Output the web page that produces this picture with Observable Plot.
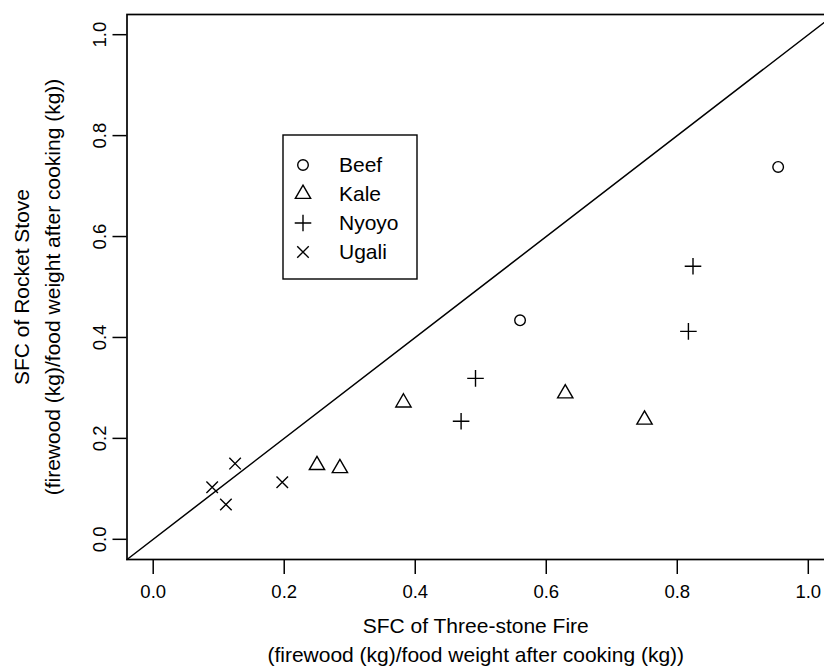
<!DOCTYPE html>
<html><head><meta charset="utf-8">
<script src="https://cdn.jsdelivr.net/npm/d3@7"></script>
<script src="https://cdn.jsdelivr.net/npm/@observablehq/plot@0.6"></script>
<style>
html,body{margin:0;padding:0;background:#fff;overflow:hidden;width:824px;height:668px}
#chart{position:relative;width:840px;height:668px}
</style></head><body><div id="chart"></div>
<script>
// ---- data ----
const categories = ["Beef", "Kale", "Nyoyo", "Ugali"];
const beefThreeStone = [0.954, 0.560];
const beefRocket     = [0.738, 0.434];
const kaleThreeStone = [0.382, 0.629, 0.750, 0.250, 0.285];
const kaleRocket     = [0.271, 0.289, 0.237, 0.147, 0.141];
const nyoyoThreeStone = [0.470, 0.492, 0.817, 0.824];
const nyoyoRocket     = [0.234, 0.319, 0.412, 0.541];
const ugaliThreeStone = [0.090, 0.111, 0.125, 0.197];
const ugaliRocket     = [0.103, 0.069, 0.150, 0.113];
const xTicks = [0, 0.2, 0.4, 0.6, 0.8, 1.0];
const yTicks = [0, 0.2, 0.4, 0.6, 0.8, 1.0];
const xLabel = "SFC of Three-stone Fire\n(firewood (kg)/food weight after cooking (kg))";
const yLabel = "SFC of Rocket Stove\n(firewood (kg)/food weight after cooking (kg))";

// ---- chart ----
const font = "'Liberation Sans', Arial, Helvetica, sans-serif";
const fmt = d3.format(".1f");
const pts = (xs, ys) => xs.map((x, i) => ({x, y: ys[i]}));
const series = [
  {name: "Beef",  data: pts(beefThreeStone, beefRocket),   symbol: "circle",    r: 5.3},
  {name: "Kale",  data: pts(kaleThreeStone, kaleRocket),   symbol: "triangle2", r: 7.3},
  {name: "Nyoyo", data: pts(nyoyoThreeStone, nyoyoRocket), symbol: "plus",      r: 5.4},
  {name: "Ugali", data: pts(ugaliThreeStone, ugaliRocket), symbol: "times",     r: 5.3}
];
const xDomain = [-0.04, 1.04];
const yDomain = [-0.04, 1.04];

const chart = Plot.plot({
  width: 840, height: 668,
  marginLeft: 126.5, marginRight: 6, marginTop: 14, marginBottom: 109,
  style: {fontFamily: font, background: "white", color: "black"},
  x: {domain: xDomain},
  y: {domain: yDomain},
  marks: [
    Plot.line(xDomain, {x: d => d, y: d => d, stroke: "black", strokeWidth: 1.5}),
    ...series.map(s => Plot.dot(s.data, {x: "x", y: "y", symbol: () => s.symbol, r: s.r,
      fill: "none", stroke: "black", strokeWidth: 1.4})),
    Plot.frame({stroke: "black", strokeWidth: 1.7}),
    Plot.axisX(xTicks, {tickSize: 15, tickPadding: 10, tickFormat: fmt, fontSize: 18.5,
      strokeWidth: 1.5, label: null}),
    Plot.axisY(yTicks, {tickSize: 14, text: null, strokeWidth: 1.5, label: null}),
    Plot.text(yTicks, {y: d => d, frameAnchor: "left", dx: -26.5, text: fmt, rotate: -90,
      textAnchor: "middle", lineAnchor: "middle", fontSize: 18.5}),
    Plot.text([xLabel], {text: d => d, frameAnchor: "bottom", dx: -5, dy: 53.5,
      textAnchor: "middle", lineAnchor: "top", lineHeight: 1.357, fontSize: 21}),
    Plot.text([yLabel], {text: d => d, frameAnchor: "left", dx: -119, rotate: -90,
      textAnchor: "middle", lineAnchor: "top", lineHeight: 1.44, fontSize: 21})
  ]
});
document.getElementById("chart").appendChild(chart);

// ---- legend (inside the plot area) ----
const symbolTypes = {circle: d3.symbolCircle, triangle2: d3.symbolTriangle2, plus: d3.symbolPlus, times: d3.symbolTimes};
const svg = d3.select(chart);
const lg = svg.append("g").attr("font-family", font).attr("text-anchor", "start");
lg.append("rect").attr("x", 283).attr("y", 135).attr("width", 134).attr("height", 144)
  .attr("fill", "white").attr("stroke", "black").attr("stroke-width", 1.4);
series.forEach((s, i) => {
  const cy = 165 + i * 29;
  lg.append("path")
    .attr("d", d3.symbol(symbolTypes[s.symbol], Math.PI * s.r * s.r)())
    .attr("transform", `translate(303,${cy})`)
    .attr("fill", "none").attr("stroke", "black").attr("stroke-width", 1.4);
  lg.append("text").attr("x", 339).attr("y", cy).attr("dy", "0.35em")
    .attr("text-anchor", "start")
    .attr("font-size", 21).attr("fill", "black").text(categories[i]);
});
</script></body></html>
